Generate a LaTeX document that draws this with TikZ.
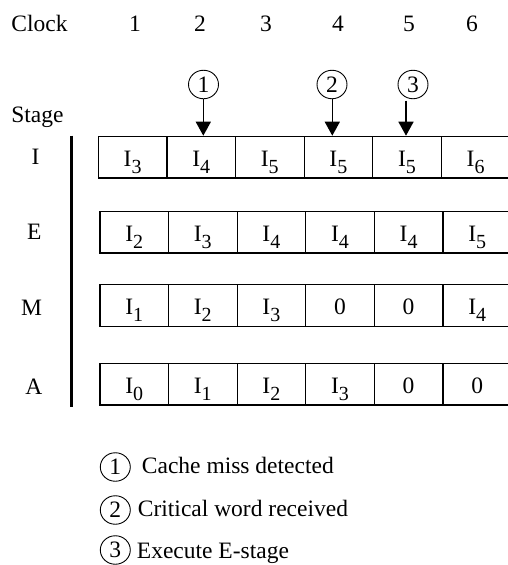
\documentclass[tikz,border=0pt]{standalone}
\usepackage{fontspec}
\setmainfont{Liberation Serif}
\usetikzlibrary{arrows.meta,shapes.geometric}
\newcommand\Isb[1]{I\raisebox{-6.5pt}{\fontsize{20}{20}\selectfont #1}}
\begin{document}
\begin{tikzpicture}[x=1pt,y=-1pt,
  every node/.style={font=\fontsize{23.5}{28}\selectfont},
  cell/.style={draw,line width=1.2pt,minimum width=68.6pt,minimum height=41.6pt,
    inner sep=0pt,anchor=north west,text height=19pt,text depth=0pt},
  circ/.style={ellipse,draw,line width=0.9pt,minimum width=30pt,minimum height=28.5pt,inner sep=0pt},
  arr/.style={line width=1.5pt,-{Triangle[width=15pt,length=14pt]}},
  lbl/.style={anchor=base},
  rowlbl/.style={anchor=base east}]
\useasboundingbox (0,0) rectangle (508,565);
% header
\node[lbl] (clock) at (39.5,31.7) {Clock};
\foreach \n/\x in {1/135,2/200,3/266,4/338,5/409,6/472}
  \node[lbl] (clk\n) at (\x,31.7) {\n};
\node[lbl] (stage) at (37.5,122) {Stage};
% row labels
\node[rowlbl] (lI) at (43,164) {I};
\node[rowlbl] (lE) at (45,239) {E};
\node[rowlbl] (lM) at (45.5,315) {M};
\node[rowlbl] (lA) at (46,394.3) {A};
% separator bar
\draw[line width=3pt] (71.7,135.7) -- (71.7,407);
% rows
\foreach \t [count=\k] in {\Isb{3},\Isb{4},\Isb{5},\Isb{5},\Isb{5},\Isb{6}}
  \node[cell] (I-\k) at ({97.7+68.6*(\k-1)},135.7) {\t};
\foreach \t [count=\k] in {\Isb{2},\Isb{3},\Isb{4},\Isb{4},\Isb{4},\Isb{5}}
  \node[cell] (E-\k) at ({99.3+68.6*(\k-1)},210.7) {\t};
\foreach \t [count=\k] in {\Isb{1},\Isb{2},\Isb{3},0,0,\Isb{4}}
  \node[cell] (M-\k) at ({99.3+68.6*(\k-1)},284) {\t};
\foreach \t [count=\k] in {\Isb{0},\Isb{1},\Isb{2},\Isb{3},0,0}
  \node[cell] (A-\k) at ({99.3+68.6*(\k-1)},362.7) {\t};
% event markers
\node[circ] (c1) at (203.5,84.5) {1};
\node[circ] (c2) at (332,84.5) {2};
\node[circ] (c3) at (413,84.5) {3};
\coordinate (t1) at (203.3,135.7);
\coordinate (t2) at (332.3,135.7);
\coordinate (t3) at (406,135.7);
\draw[arr] (c1.south -| t1) -- (t1);
\draw[arr] (c2.south -| t2) -- (t2);
\draw[arr] ([yshift=-1.5pt]c3.south -| t3) -- (t3);
% legend
\node[circ] (g1) at (115.3,467) {1};
\node[circ] (g2) at (115.3,510) {2};
\node[circ] (g3) at (115.3,550) {3};
\node[anchor=base west,inner sep=0pt] (k1) at (141.7,473) {Cache miss detected};
\node[anchor=base west,inner sep=0pt] (k2) at (137.7,516.7) {Critical word received};
\node[anchor=base west,inner sep=0pt] (k3) at (136.7,558.5) {Execute E-stage};
\end{tikzpicture}
\end{document}
